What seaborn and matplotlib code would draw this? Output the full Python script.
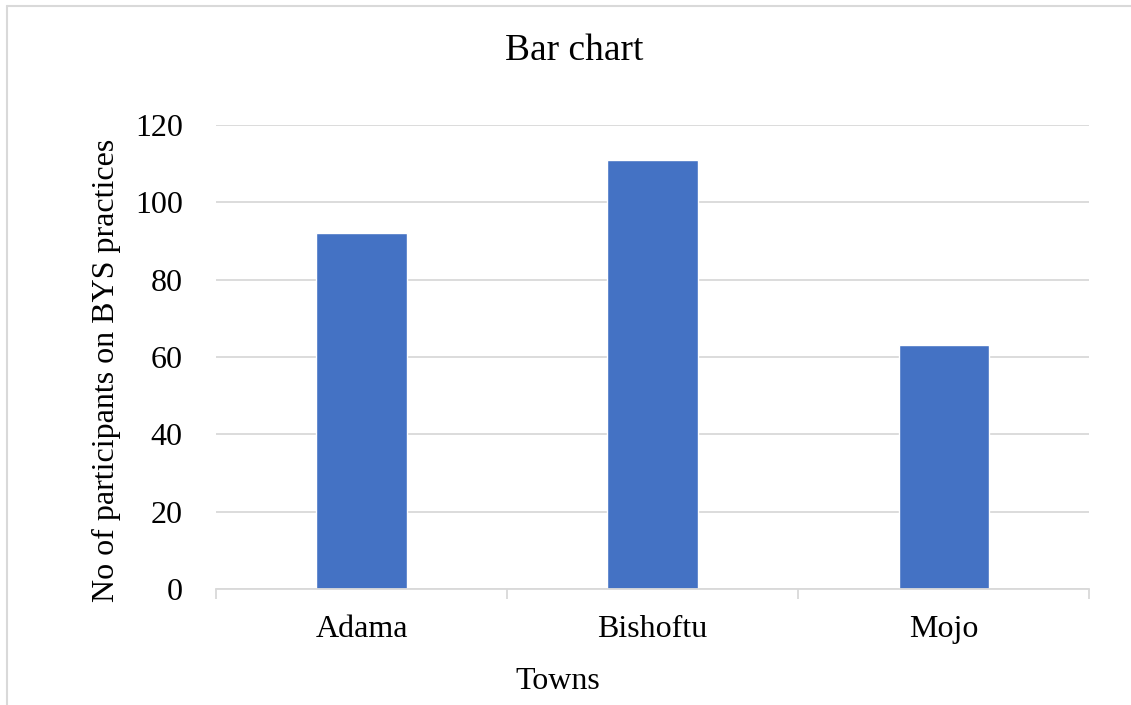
import pandas as pd
import seaborn as sns
import matplotlib.pyplot as plt
from matplotlib.lines import Line2D

# data
towns = ['Adama', 'Bishoftu', 'Mojo']
participants = [92, 111, 63]

df = pd.DataFrame({'Towns': towns, 'Participants': participants})

sns.set_style('white')
plt.rcParams['font.family'] = ['Liberation Serif', 'DejaVu Serif']
plt.rcParams['text.color'] = 'black'
plt.rcParams['xtick.color'] = 'black'
plt.rcParams['ytick.color'] = 'black'

fig = plt.figure(figsize=(11.31, 7.05), dpi=100)
ax = fig.add_axes([0.191, 0.1645, 0.772, 0.658])

sns.barplot(data=df, x='Towns', y='Participants', color='#4472C4',
            saturation=1, width=0.31, ax=ax)

ax.set_ylim(0, 120)
ax.set_xlim(-0.5, 2.5)
ax.set_yticks(range(0, 121, 20))
ax.yaxis.grid(True, color='#D9D9D9', linewidth=1.3)
ax.set_axisbelow(True)
for side in ['top', 'right', 'left']:
    ax.spines[side].set_visible(False)
ax.spines['bottom'].set_color('#D9D9D9')
ax.spines['bottom'].set_linewidth(1.3)

# category boundary ticks
ax.set_xticks([-0.5, 0.5, 1.5, 2.5], minor=True)
ax.tick_params(axis='x', which='minor', bottom=True, length=7,
               color='#D9D9D9', width=1.3)
ax.tick_params(axis='x', which='major', bottom=True, length=0, pad=19,
               labelsize=23, labelcolor='black')
ax.tick_params(axis='y', length=0, pad=24, labelsize=23, labelcolor='black')

ax.set_xlabel('')
ax.set_ylabel('')
fig.text(0.493, 0.034, 'Towns', ha='center', va='center', fontsize=23)
fig.text(0.094, 0.475, 'No of participants on BYS practices', ha='center',
         va='center', rotation=90, fontsize=23)
fig.text(0.508, 0.928, 'Bar chart', ha='center', va='center', fontsize=27)

# light chart-area border (top and left only visible)
fig.add_artist(Line2D([0.0062, 0.0062], [0, 0.9915], color='#D9D9D9', lw=1.5,
                      transform=fig.transFigure))
fig.add_artist(Line2D([0.0062, 1.0], [0.9915, 0.9915], color='#D9D9D9', lw=1.5,
                      transform=fig.transFigure))

fig.savefig('out.png', dpi=100)
